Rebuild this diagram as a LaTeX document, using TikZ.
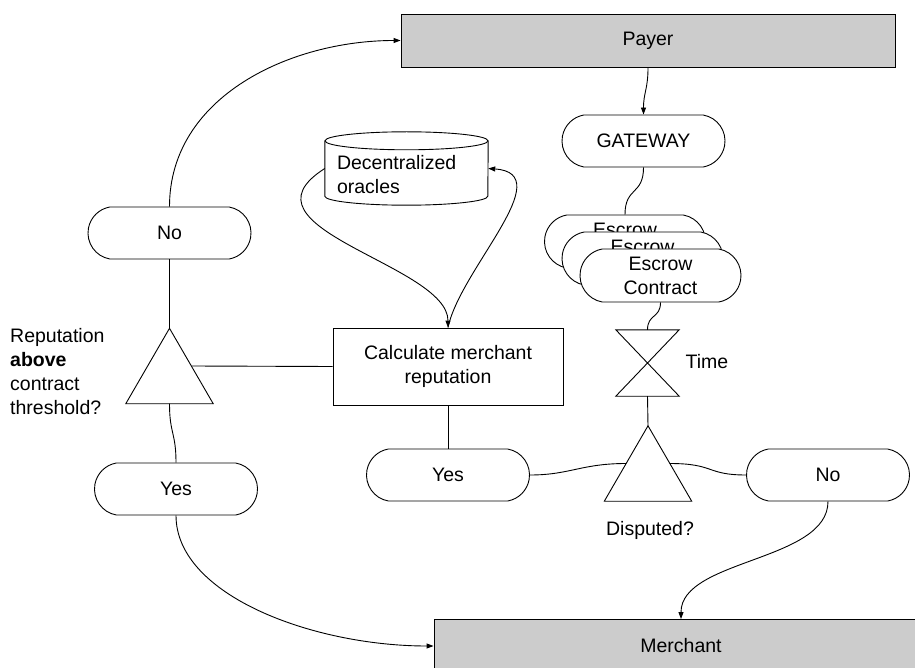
\documentclass[tikz,border=0pt]{standalone}
\usepackage{fontspec}
\setmainfont{Liberation Sans}
\usetikzlibrary{shapes.misc,arrows.meta,calc}
\definecolor{actorgray}{HTML}{CCCCCC}

\begin{document}
\begin{tikzpicture}[x=1pt,y=-1pt,
  every node/.style={font=\fontsize{19.5}{24}\selectfont, inner sep=0pt},
  ln/.style={line width=0.9pt, black},
  arr/.style={ln, -{Stealth[length=7pt,width=5pt,inset=0pt]}},
  actor/.style={draw, ln, fill=actorgray, minimum width=494pt, minimum height=53pt},
  pill/.style={draw, ln, fill=white, rounded rectangle, rounded rectangle arc length=160,
    minimum width=163pt, minimum height=52pt, align=center},
  task/.style={draw, ln, fill=white, minimum width=230pt, minimum height=77pt, align=center},
  frame/.style={minimum width=#1, minimum height=75pt},
  frame/.default=87pt
]
\useasboundingbox (0,0) rectangle (915,668);
\clip (0,0) rectangle (915,668);

% participants
\node[actor] (payer) at (648,40.5) {Payer};
\node[actor] (merchant) at (681,646) {Merchant};

% gateway and the stack of escrow contracts
\node[pill] (gateway) at (643.5,141) {GATEWAY};
\node[pill, minimum width=161pt, minimum height=53pt] (esc1) at (625,241.5) {Escrow\\Contract};
\node[pill, minimum width=161pt, minimum height=53pt] (esc2) at (642.5,258.5) {Escrow\\Contract};
\node[pill, minimum width=161pt, minimum height=53pt] (esc3) at (660.5,275.5) {Escrow\\Contract};

% timer (hourglass)
\node[minimum width=63pt, minimum height=66pt] (timer) at (647.5,363) {};
\draw[ln] (timer.north west) -- (timer.north east) -- (timer.south west) -- (timer.south east) -- cycle;
\node (timelbl) at (707,362) {Time};

% dispute decision
\node[frame] (dispute) at (648,463.5) {};
\draw[ln] (dispute.north) -- (dispute.south east) -- (dispute.south west) -- cycle;
\node (displbl) at (650,530) {Disputed?};
\node[pill] (yesR) at (448,475) {Yes};
\node[pill] (noR) at (828,475) {No};

% reputation calculation and oracle store
\node[task] (calc) at (448,366.5) {Calculate merchant\\reputation};
\node[minimum width=163pt, minimum height=73pt] (oracles) at (406.5,168.5) {};
\draw[ln] ($(oracles.north west)+(0,9)$) -- ($(oracles.south west)+(0,-9)$)
  arc[start angle=180, end angle=360, x radius=81.5pt, y radius=9pt]
  -- ($(oracles.north east)+(0,9)$);
\draw[ln] ($(oracles.north)+(0,9)$) ellipse[x radius=81.5pt, y radius=9pt];
\node[anchor=west, align=left] (oracleslbl) at ($(oracles.west)+(12,6.5)$) {Decentralized\\oracles};

% reputation decision
\node[frame] (rep) at (169.5,366) {};
\draw[ln] (rep.north) -- (rep.south east) -- (rep.south west) -- cycle;
\node[anchor=west, align=left] (replbl) at (10,372) {Reputation\\\textbf{above}\\contract\\threshold?};
\node[pill] (noL) at (169.5,233) {No};
\node[pill] (yesL) at (176,489) {Yes};

% connectors on the payment path
\draw[arr] (payer.south) .. controls +(0,22) and +(0,-22) .. (gateway.north);
\draw[ln] (gateway.south) .. controls +(0,28) and +(0,-28) .. (esc1.north);
\draw[ln] (esc3.south) .. controls +(0,16) and +(0,-16) .. (timer.north);
\draw[ln] (timer.south) -- (dispute.north);
\draw[ln] ($(dispute.north)!.5!(dispute.south west)$) .. controls +(-45,0) and +(40,0) .. (yesR.east);
\draw[ln] ($(dispute.north)!.5!(dispute.south east)$) .. controls +(45,0) and +(-40,0) .. (noR.west);
\draw[arr] (noR.south) .. controls +(0,60) and +(0,-60) .. (merchant.north);

% connectors around the reputation check
\draw[ln] (calc.south) -- (yesR.north);
\draw[arr] (oracles.west) .. controls +(-95,60) and +(0,-63) .. (calc.north);
\draw[arr] (calc.north) .. controls +(12,-58) and +(72,5) .. (oracles.east);
\draw[ln] ($(rep.north)!.5!(rep.south east)$) -- (calc.west);
\draw[ln] (noL.south) -- (rep.north);
\draw[ln] (rep.south) .. controls +(0,30) and +(0,-30) .. (yesL.north);
\draw[arr] (noL.north) .. controls +(0,-110) and +(-110,0) .. (payer.west);
\draw[arr] (yesL.south) .. controls +(0,80) and +(-120,0) .. (merchant.west);
\end{tikzpicture}
\end{document}
